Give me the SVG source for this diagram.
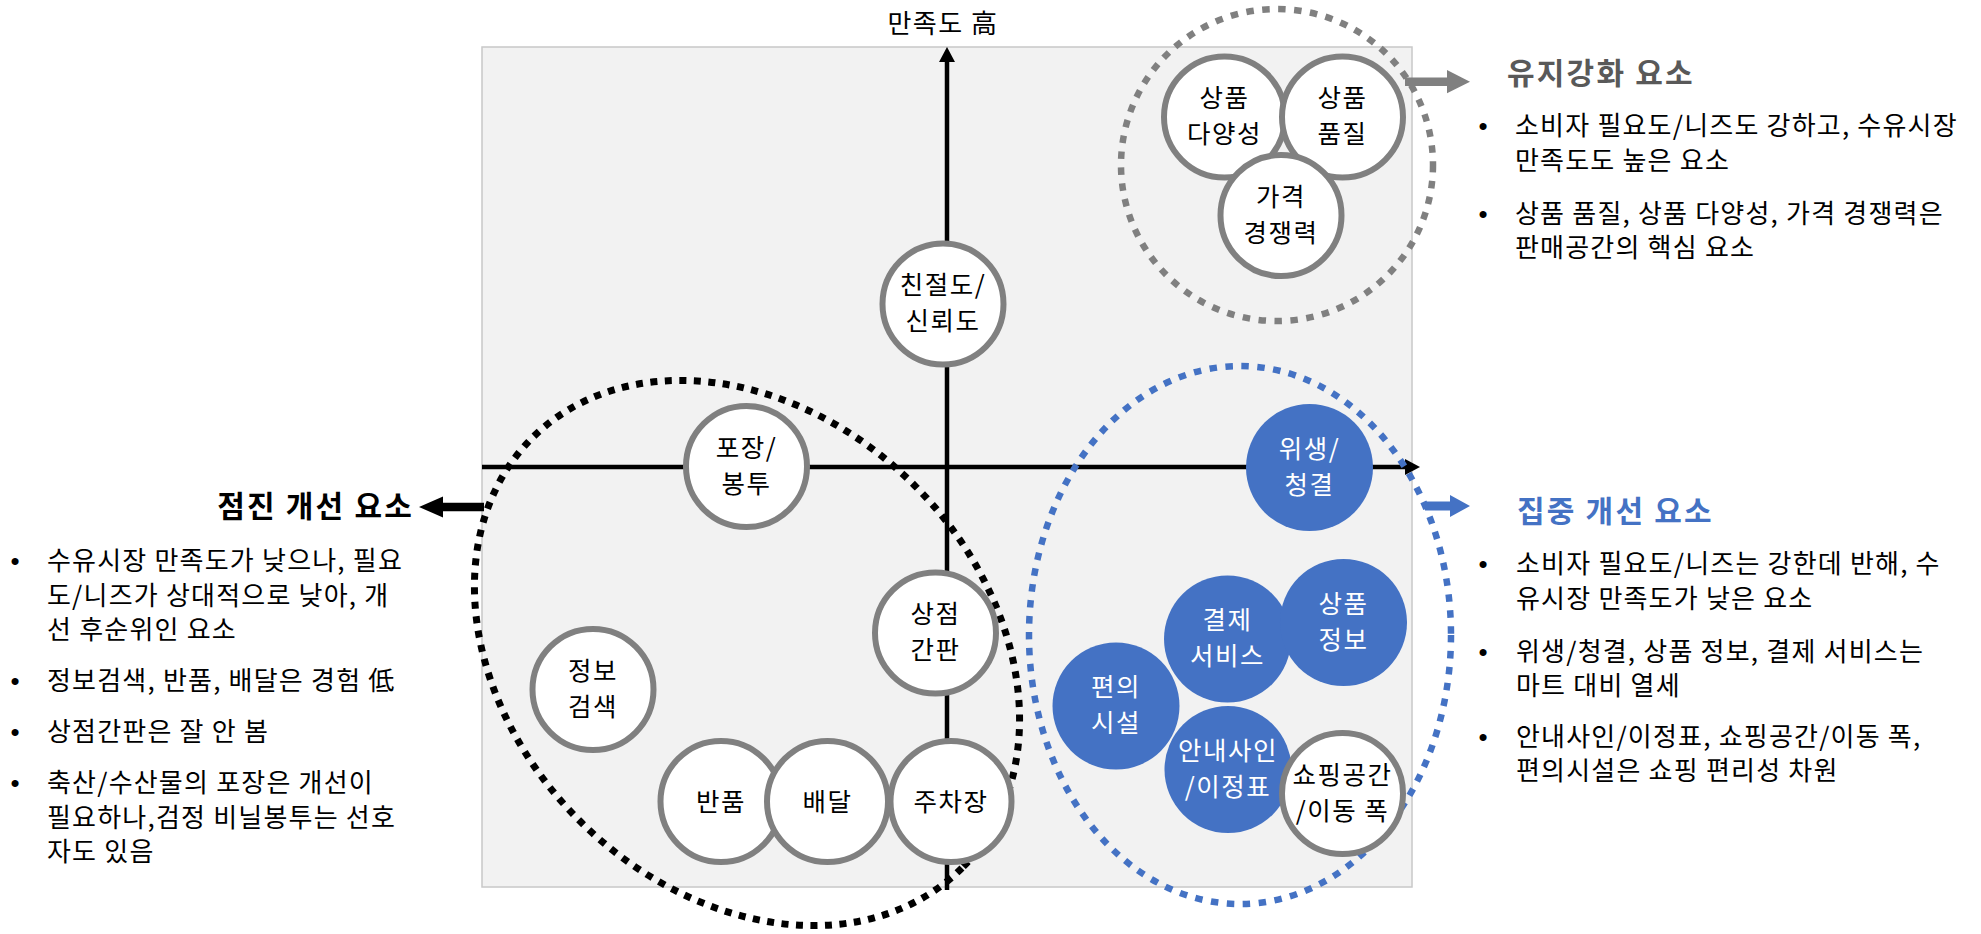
<svg xmlns="http://www.w3.org/2000/svg" width="1981" height="934" viewBox="0 0 1981 934">
  <defs>
    <marker id="axisHead" viewBox="0 -8 15 16" refX="0" refY="0" markerWidth="15" markerHeight="16" markerUnits="userSpaceOnUse" orient="auto">
      <path d="M0,-8 L15,0 L0,8 z" fill="#000"/>
    </marker>
    <style>
      .box { fill: #f2f2f2; stroke: #c8c8c8; stroke-width: 1.5; }
      .axis { stroke: #000; stroke-width: 4.5; fill: none; }
      .wn { fill: #fff; stroke: #808080; stroke-width: 6; }
      .bn { fill: #4472c4; stroke: none; }
      .t { font-family: "Noto Sans CJK KR", "Noto Sans CJK SC", sans-serif; }
      .nt { font-size: 25.5px; letter-spacing: 1.5px; text-anchor: middle; fill: #000; }
      .wt { fill: #fff; }
      .body { font-size: 26px; letter-spacing: 1.2px; fill: #000; }
      .title { font-size: 30px; letter-spacing: 2.2px; font-weight: bold; }
      .bul { font-family: "Liberation Sans", Arial, sans-serif; font-size: 26px; text-anchor: middle; fill: #000; }
      .dotK { fill: none; stroke: #000; stroke-width: 7; stroke-dasharray: 7 7.5; }
      .dotG { fill: none; stroke: #808080; stroke-width: 6.5; stroke-dasharray: 7.5 8.5; }
      .dotB { fill: none; stroke: #4472c4; stroke-width: 6.5; stroke-dasharray: 7.5 8.5; }
    </style>
  </defs>

  <rect id="plot-area" class="box" x="482" y="47" width="930" height="840"/>

  <g id="connectors">
    <line id="axis-y" class="axis" x1="947" y1="890" x2="947" y2="62" marker-end="url(#axisHead)"/>
    <line id="axis-x" class="axis" x1="482" y1="467" x2="1405" y2="467" marker-end="url(#axisHead)"/>
    <polygon id="arrow-keep" fill="#808080" points="1405,77.5 1447,77.5 1447,70 1470,81.7 1447,93.3 1447,86 1405,86"/>
    <polygon id="arrow-focus" fill="#4472c4" points="1425,501.5 1450,501.5 1450,495 1470,506 1450,517 1450,510.5 1425,510.5"/>
    <polygon id="arrow-gradual" fill="#000" points="484,502.7 443,502.7 443,496.5 419,507 443,517.5 443,511.3 484,511.3"/>
  </g>

  <g id="cluster-gradual">
    <ellipse class="dotK" cx="747" cy="653" rx="304" ry="237" transform="rotate(45 747 653)"/>
  </g>
  <g id="cluster-keep">
    <circle class="dotG" cx="1277" cy="165" r="156"/>
  </g>
  <g id="cluster-focus">
    <ellipse class="dotB" cx="1240" cy="635" rx="211" ry="269"/>
  </g>

  <text class="t" x="943" y="33" font-size="26" letter-spacing="1.5" text-anchor="middle" fill="#000">만족도 高</text>

  <g id="n-kindness">
    <circle class="wn" cx="943" cy="304" r="60.5"/>
    <text class="t nt" x="943" y="294">친절도/</text>
    <text class="t nt" x="943" y="330">신뢰도</text>
  </g>
  <g id="n-packaging">
    <circle class="wn" cx="746.5" cy="466.5" r="60.5"/>
    <text class="t nt" x="746.5" y="456.5">포장/</text>
    <text class="t nt" x="746.5" y="492.5">봉투</text>
  </g>
  <g id="n-signboard">
    <circle class="wn" cx="935.5" cy="633" r="60.5"/>
    <text class="t nt" x="935.5" y="623">상점</text>
    <text class="t nt" x="935.5" y="659">간판</text>
  </g>
  <g id="n-infosearch">
    <circle class="wn" cx="593" cy="689.5" r="60.5"/>
    <text class="t nt" x="593" y="679.5">정보</text>
    <text class="t nt" x="593" y="715.5">검색</text>
  </g>
  <g id="n-return">
    <circle class="wn" cx="721" cy="801.5" r="60.5"/>
    <text class="t nt" x="721" y="810.5">반품</text>
  </g>
  <g id="n-delivery">
    <circle class="wn" cx="827.5" cy="801.5" r="60.5"/>
    <text class="t nt" x="827.5" y="810.5">배달</text>
  </g>
  <g id="n-parking">
    <circle class="wn" cx="951" cy="801.5" r="60.5"/>
    <text class="t nt" x="951" y="810.5">주차장</text>
  </g>

  <g id="n-variety">
    <circle class="wn" cx="1224.5" cy="117" r="60.5"/>
    <text class="t nt" x="1224.5" y="107">상품</text>
    <text class="t nt" x="1224.5" y="143">다양성</text>
  </g>
  <g id="n-quality">
    <circle class="wn" cx="1342.5" cy="117" r="60.5"/>
    <text class="t nt" x="1342.5" y="107">상품</text>
    <text class="t nt" x="1342.5" y="143">품질</text>
  </g>
  <g id="n-price">
    <circle class="wn" cx="1281" cy="215.5" r="60.5"/>
    <text class="t nt" x="1281" y="205.5">가격</text>
    <text class="t nt" x="1281" y="241.5">경쟁력</text>
  </g>

  <g id="n-hygiene">
    <circle class="bn" cx="1309.5" cy="467.5" r="63.5"/>
    <text class="t nt wt" x="1309.5" y="457.5">위생/</text>
    <text class="t nt wt" x="1309.5" y="493.5">청결</text>
  </g>
  <g id="n-payment">
    <circle class="bn" cx="1227.5" cy="639" r="63.5"/>
    <text class="t nt wt" x="1227.5" y="629">결제</text>
    <text class="t nt wt" x="1227.5" y="665">서비스</text>
  </g>
  <g id="n-prodinfo">
    <circle class="bn" cx="1343.5" cy="622.5" r="63.5"/>
    <text class="t nt wt" x="1343.5" y="612.5">상품</text>
    <text class="t nt wt" x="1343.5" y="648.5">정보</text>
  </g>
  <g id="n-convenience">
    <circle class="bn" cx="1116" cy="706" r="63.5"/>
    <text class="t nt wt" x="1116" y="696">편의</text>
    <text class="t nt wt" x="1116" y="732">시설</text>
  </g>
  <g id="n-guide">
    <circle class="bn" cx="1228" cy="769.5" r="63.5"/>
    <text class="t nt wt" x="1228" y="759.5">안내사인</text>
    <text class="t nt wt" x="1228" y="795.5">/이정표</text>
  </g>
  <g id="n-space">
    <circle class="wn" cx="1342.5" cy="793.5" r="60.5"/>
    <text class="t nt" x="1342.5" y="783.5">쇼핑공간</text>
    <text class="t nt" x="1342.5" y="819.5">/이동 폭</text>
  </g>

  <g id="legend-keep">
    <text class="t title" x="1507" y="84" fill="#595959">유지강화 요소</text>
    <text class="bul" x="1483" y="135">•</text>
    <text class="t body" x="1515" y="135">소비자 필요도/니즈도 강하고, 수유시장</text>
    <text class="t body" x="1515" y="170">만족도도 높은 요소</text>
    <text class="bul" x="1483" y="223">•</text>
    <text class="t body" x="1515" y="223">상품 품질, 상품 다양성, 가격 경쟁력은</text>
    <text class="t body" x="1515" y="257">판매공간의 핵심 요소</text>
  </g>

  <g id="legend-focus">
    <text class="t title" x="1517" y="522" fill="#4472c4">집중 개선 요소</text>
    <text class="bul" x="1483" y="573">•</text>
    <text class="t body" x="1516" y="573">소비자 필요도/니즈는 강한데 반해, 수</text>
    <text class="t body" x="1516" y="608">유시장 만족도가 낮은 요소</text>
    <text class="bul" x="1483" y="661">•</text>
    <text class="t body" x="1516" y="661">위생/청결, 상품 정보, 결제 서비스는</text>
    <text class="t body" x="1516" y="695">마트 대비 열세</text>
    <text class="bul" x="1483" y="746">•</text>
    <text class="t body" x="1516" y="746">안내사인/이정표, 쇼핑공간/이동 폭,</text>
    <text class="t body" x="1516" y="780">편의시설은 쇼핑 편리성 차원</text>
  </g>

  <g id="legend-gradual">
    <text class="t title" x="414" y="517" text-anchor="end" fill="#000">점진 개선 요소</text>
    <text class="bul" x="15" y="570">•</text>
    <text class="t body" x="47" y="570">수유시장 만족도가 낮으나, 필요</text>
    <text class="t body" x="47" y="605">도/니즈가 상대적으로 낮아, 개</text>
    <text class="t body" x="47" y="639">선 후순위인 요소</text>
    <text class="bul" x="15" y="690">•</text>
    <text class="t body" x="47" y="690">정보검색, 반품, 배달은 경험 低</text>
    <text class="bul" x="15" y="741">•</text>
    <text class="t body" x="47" y="741">상점간판은 잘 안 봄</text>
    <text class="bul" x="15" y="792">•</text>
    <text class="t body" x="47" y="792">축산/수산물의 포장은 개선이</text>
    <text class="t body" x="47" y="827">필요하나,검정 비닐봉투는 선호</text>
    <text class="t body" x="47" y="861">자도 있음</text>
  </g>
</svg>
